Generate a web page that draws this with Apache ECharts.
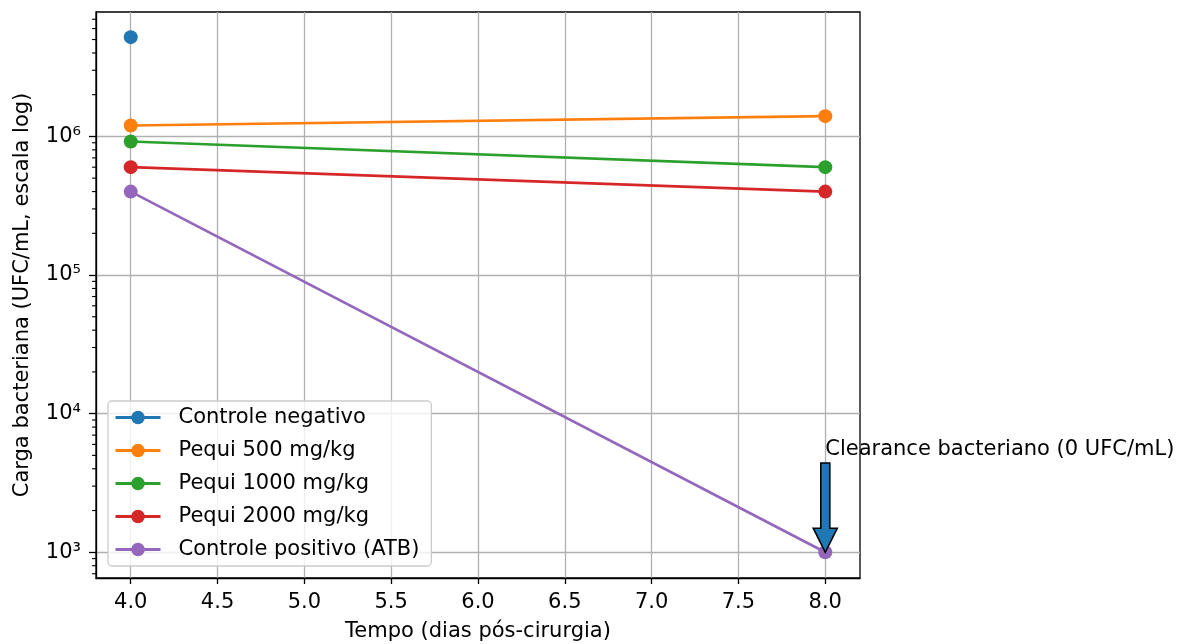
<!DOCTYPE html>
<html>
<head>
<meta charset="utf-8">
<script src="https://cdn.jsdelivr.net/npm/echarts@6/dist/echarts.min.js"></script>
<style>html,body{margin:0;padding:0;background:#fff}#c{width:1182px;height:644px}</style>
</head>
<body>
<div id="c"></div>
<script>
const days = [4, 8];
const controleNegativo = [5.2e6, null];
const pequi500 = [1.2e6, 1.4e6];
const pequi1000 = [9.2e5, 6.0e5];
const pequi2000 = [6.0e5, 4.0e5];
const controlePositivo = [4.0e5, 1.0e3];
const seriesNames = ['Controle negativo', 'Pequi 500 mg/kg', 'Pequi 1000 mg/kg', 'Pequi 2000 mg/kg', 'Controle positivo (ATB)'];
const seriesValues = [controleNegativo, pequi500, pequi1000, pequi2000, controlePositivo];
const colors = ['#1f77b4', '#ff7f0e', '#2ca02c', '#d62728', '#9467bd'];
const xTicks = [4.0, 4.5, 5.0, 5.5, 6.0, 6.5, 7.0, 7.5, 8.0];
const yTicks = [1e3, 1e4, 1e5, 1e6];
const yMinorTicks = [700, 800, 900, 2e3, 3e3, 4e3, 5e3, 6e3, 7e3, 8e3, 9e3,
  2e4, 3e4, 4e4, 5e4, 6e4, 7e4, 8e4, 9e4, 2e5, 3e5, 4e5, 5e5, 6e5, 7e5, 8e5, 9e5,
  2e6, 3e6, 4e6, 5e6, 6e6, 7e6];
const annotationText = 'Clearance bacteriano (0 UFC/mL)';
const annotationFrom = [8, 4400];
const annotationTo = [8, 1000];

const FONT = 'DejaVu Sans';
const FS = 21;
const sup = {'0':'⁰','1':'¹','2':'²','3':'³','4':'⁴','5':'⁵','6':'⁶','7':'⁷','8':'⁸','9':'⁹'};

const chart = echarts.init(document.getElementById('c'));
const lineSeries = seriesNames.map((name, i) => ({
  name: name,
  type: 'line',
  data: days.map((d, j) => [d, seriesValues[i][j]]),
  color: colors[i],
  symbol: 'circle',
  symbolSize: 14,
  showSymbol: true,
  lineStyle: { width: 2.6, color: colors[i] },
  itemStyle: { color: colors[i] },
  connectNulls: false,
  z: 3 + i,
  animation: false
}));

const minorTickSeries = {
  type: 'custom',
  silent: true,
  animation: false,
  clip: false,
  data: yMinorTicks.map(v => [4, v]),
  renderItem: function (params, api) {
    const y = api.coord([4, api.value(1)])[1];
    const x0 = params.coordSys.x;
    return { type: 'line', shape: { x1: x0 - 4, y1: y, x2: x0, y2: y }, style: { stroke: '#000', lineWidth: 1.1 } };
  },
  z: 10
};

const annotationSeries = {
  type: 'custom',
  silent: true,
  animation: false,
  clip: false,
  data: [[annotationFrom[0], annotationFrom[1], annotationTo[0], annotationTo[1]]],
  renderItem: function (params, api) {
    const p0 = api.coord([api.value(0), api.value(1)]);
    const p1 = api.coord([api.value(2), api.value(3)]);
    const x = p1[0];
    const top = p0[1], tip = p1[1];
    const sw = 4.5, hw = 12, hl = 24;
    const pts = [[x - sw, top], [x + sw, top], [x + sw, tip - hl], [x + hw, tip - hl], [x, tip], [x - hw, tip - hl], [x - sw, tip - hl]];
    return {
      type: 'group',
      children: [
        { type: 'polygon', shape: { points: pts }, style: { fill: '#1f77b4', stroke: '#000', lineWidth: 1.6 }, z2: 20 },
        { type: 'text', x: x, y: top - 3, style: { text: annotationText, fill: '#000', font: FS + 'px "' + FONT + '"', textAlign: 'left', textVerticalAlign: 'bottom' }, z2: 20 }
      ]
    };
  },
  z: 20
};

chart.setOption({
  animation: false,
  textStyle: { fontFamily: FONT },
  grid: { left: 96, right: 322, top: 12, bottom: 66, outerBoundsMode: 'none', containLabel: false,
    show: true, borderColor: '#000', borderWidth: 1.3, backgroundColor: 'transparent' },
  legend: {
    data: seriesNames,
    orient: 'vertical',
    left: 108,
    top: 401,
    itemWidth: 45,
    itemHeight: 17,
    itemGap: 12,
    padding: [6, 12, 6, 6],
    backgroundColor: 'rgba(255,255,255,0.8)',
    borderColor: '#cccccc',
    borderWidth: 1.3,
    borderRadius: 4,
    lineStyle: { width: 3 },
    textStyle: { fontFamily: FONT, fontSize: FS, lineHeight: 21, color: '#000', padding: [0, 0, 0, 13] },
    z: 30
  },
  xAxis: {
    type: 'value',
    min: 3.8,
    max: 8.2,
    name: 'Tempo (dias pós-cirurgia)',
    nameLocation: 'middle',
    nameGap: 43,
    nameTextStyle: { fontFamily: FONT, fontSize: FS, color: '#000' },
    axisLine: { show: true, onZero: false, lineStyle: { color: '#000', width: 1.3 } },
    axisTick: { show: true, customValues: xTicks, length: 6, lineStyle: { color: '#000', width: 1.3 } },
    axisLabel: { customValues: xTicks, fontFamily: FONT, fontSize: FS, color: '#000', margin: 14, formatter: v => v.toFixed(1) },
    splitLine: { show: true, lineStyle: { color: '#b0b0b0', width: 1.3 } }
  },
  yAxis: {
    type: 'log',
    logBase: 10,
    min: 652,
    max: 7.9e6,
    name: 'Carga bacteriana (UFC/mL, escala log)',
    nameLocation: 'middle',
    nameGap: 63,
    nameTextStyle: { fontFamily: FONT, fontSize: FS, color: '#000' },
    axisLine: { show: true, onZero: false, lineStyle: { color: '#000', width: 1.3 } },
    axisTick: { show: true, customValues: yTicks, length: 7, lineStyle: { color: '#000', width: 1.3 } },
    axisLabel: { customValues: yTicks, fontFamily: FONT, fontSize: FS, color: '#000', margin: 15,
      formatter: v => '10' + String(Math.round(Math.log10(v))).split('').map(c => sup[c]).join('') },
    splitLine: { show: true, lineStyle: { color: '#b0b0b0', width: 1.3 } }
  },
  series: [...lineSeries, minorTickSeries, annotationSeries]
});
</script>
</body>
</html>
